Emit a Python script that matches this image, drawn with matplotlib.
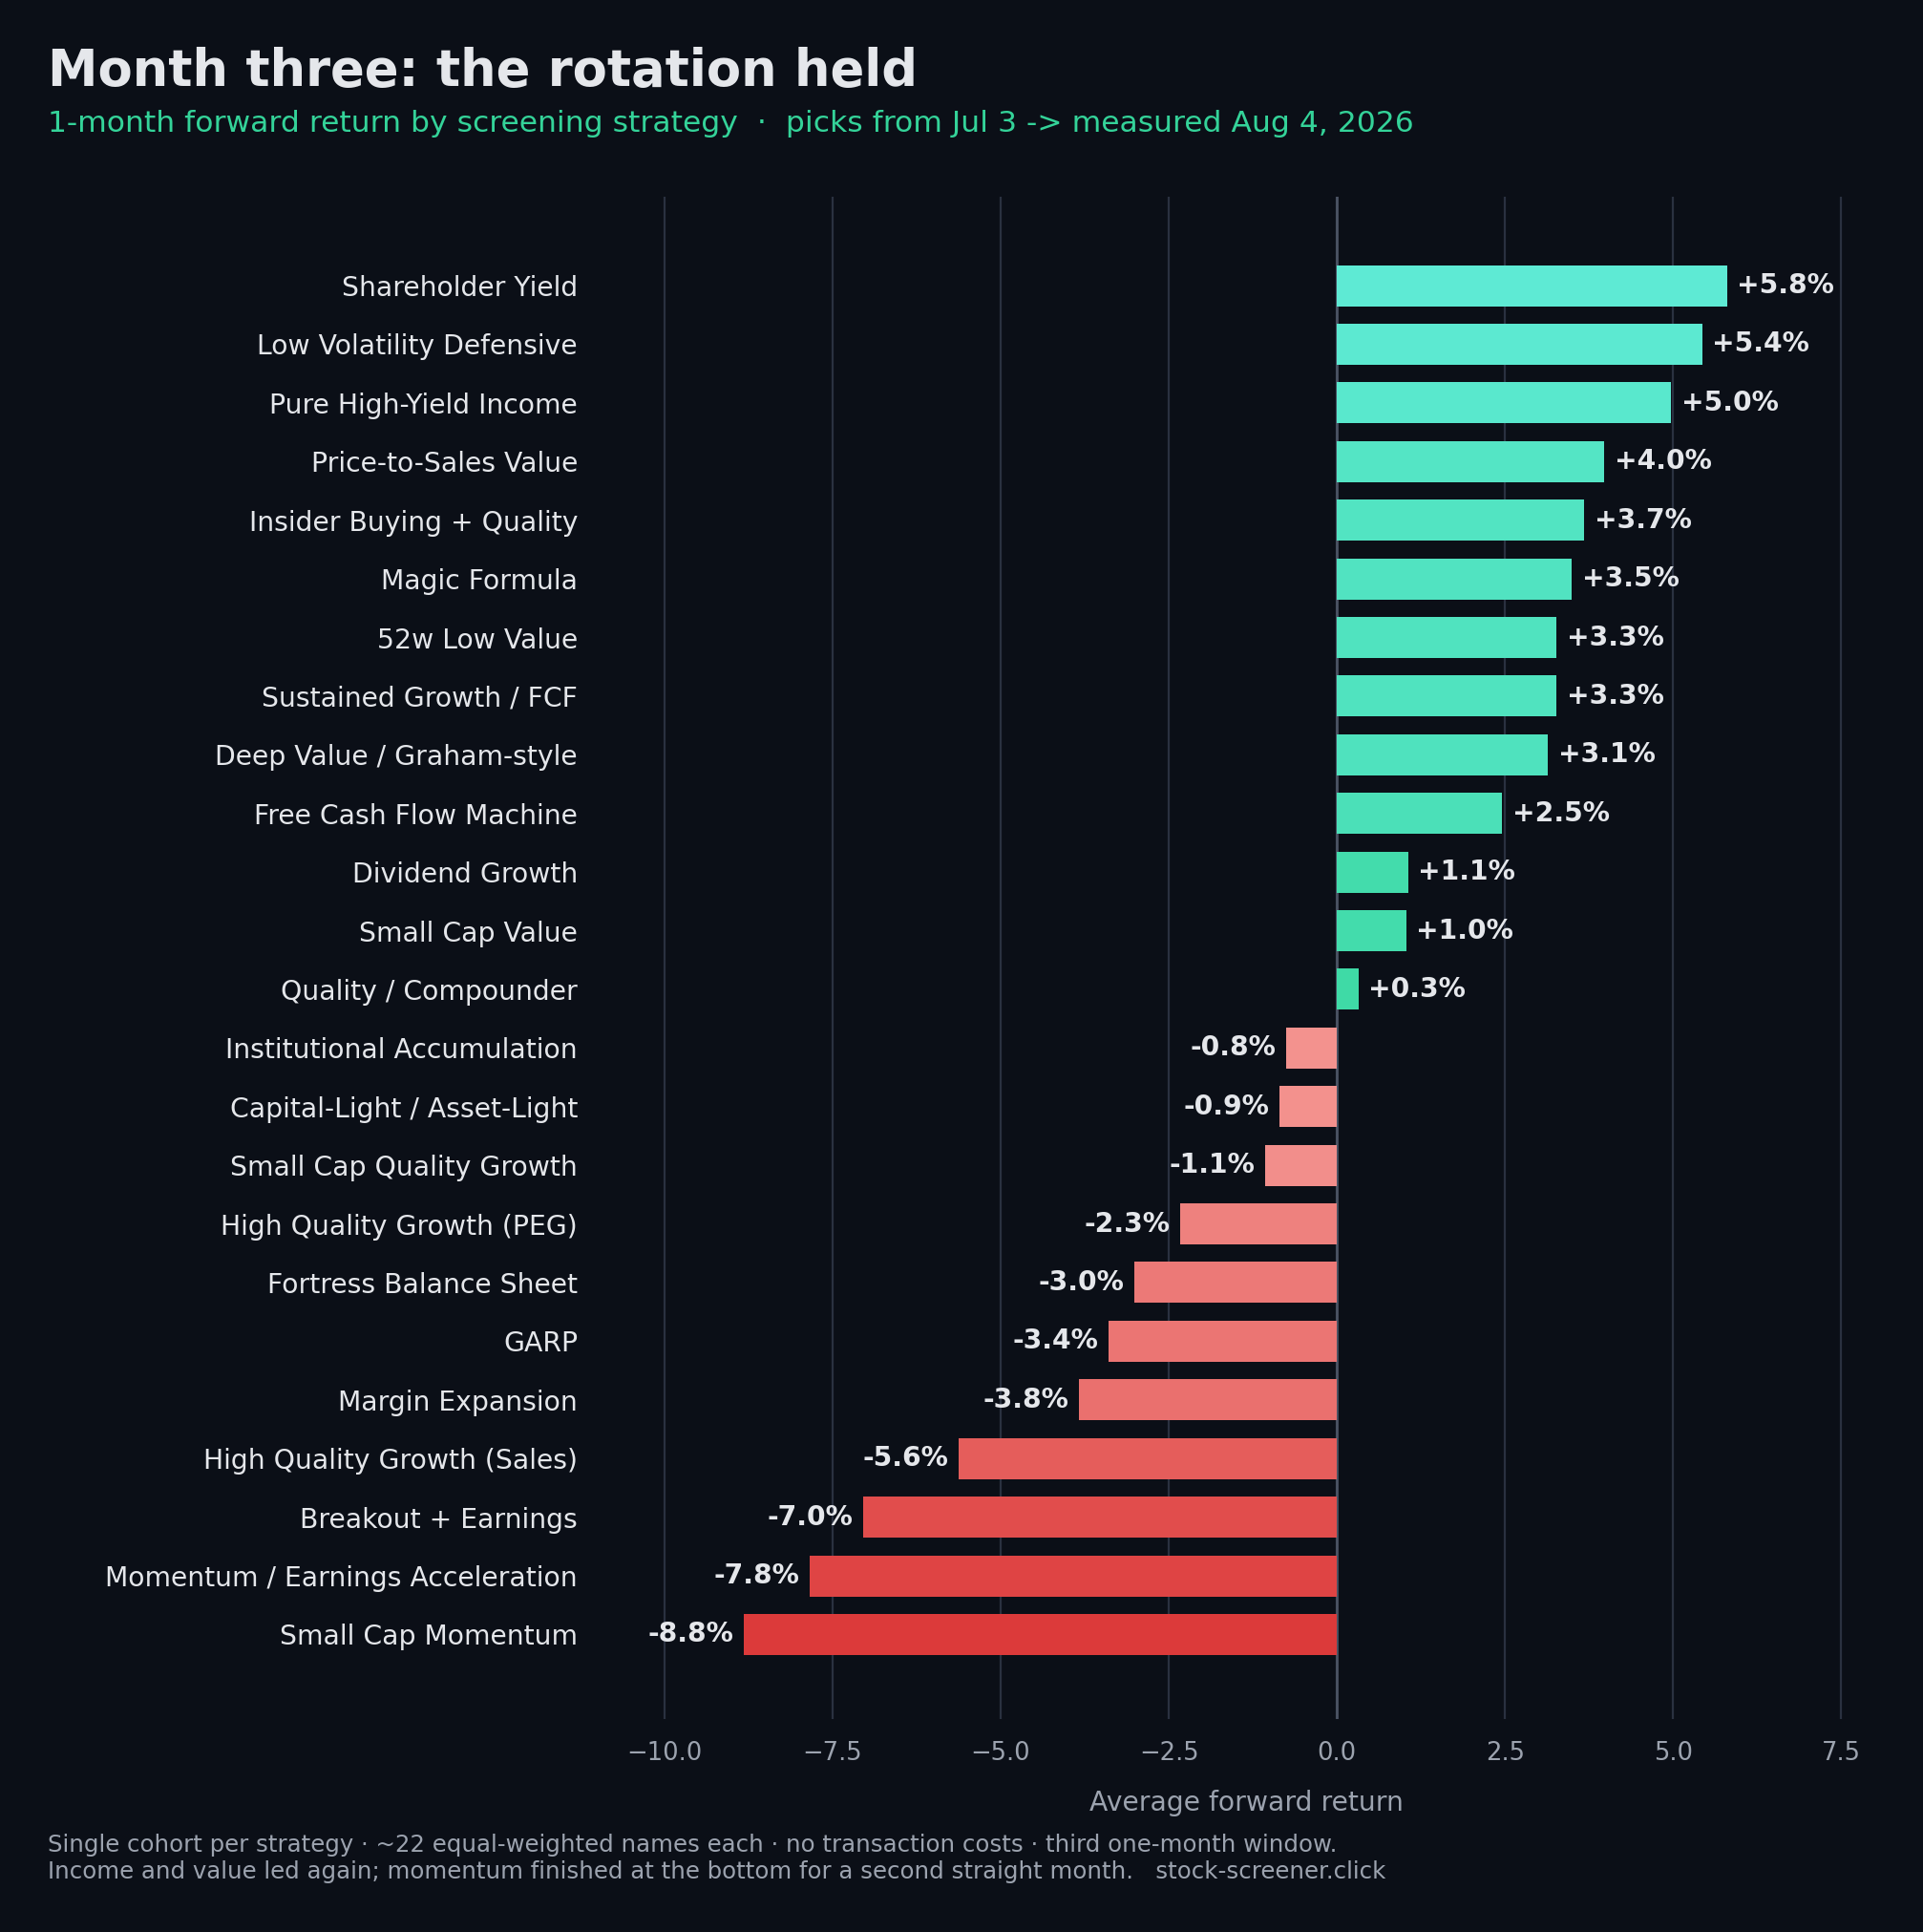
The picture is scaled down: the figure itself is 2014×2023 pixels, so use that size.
import matplotlib
matplotlib.use("Agg")
import matplotlib.pyplot as plt
import numpy as np
from matplotlib.colors import LinearSegmentedColormap

strategies = ["Shareholder Yield","Low Volatility Defensive","Pure High-Yield Income","Price-to-Sales Value",
 "Insider Buying + Quality","Magic Formula","52w Low Value","Sustained Growth / FCF","Deep Value / Graham-style",
 "Free Cash Flow Machine","Dividend Growth","Small Cap Value","Quality / Compounder","Institutional Accumulation",
 "Capital-Light / Asset-Light","Small Cap Quality Growth","High Quality Growth (PEG)","Fortress Balance Sheet",
 "GARP","Margin Expansion","High Quality Growth (Sales)","Breakout + Earnings","Momentum / Earnings Acceleration",
 "Small Cap Momentum"]
returns = [5.8,5.43,4.97,3.98,3.68,3.49,3.27,3.27,3.14,2.46,1.06,1.03,0.32,-0.75,-0.86,-1.07,-2.33,-3.01,-3.4,-3.84,-5.63,-7.04,-7.84,-8.82]

BG = "#0b0f17"
fig = plt.figure(figsize=(10.07, 10.115), dpi=200, facecolor=BG)
ax = fig.add_axes([0.328, 0.110, 0.640, 0.788], facecolor=BG)

pos_cmap = LinearSegmentedColormap.from_list("p", ["#3dd9a3", "#5eead4"])
neg_cmap = LinearSegmentedColormap.from_list("n", ["#f59a96", "#dc3a3a"])
colors = []
for v in returns:
    if v >= 0:
        colors.append(pos_cmap(float(min(v / 5.8, 1.0))))
    else:
        colors.append(neg_cmap(float(min(-v / 8.8, 1.0))))

y = np.arange(len(strategies))
ax.barh(y, returns, height=0.7, color=colors, zorder=3)
ax.set_ylim(len(strategies) - 1 + 1.45, -1.51)
ax.set_xlim(-10.5, 7.8)
ax.set_yticks(y)
ax.set_yticklabels(strategies, color="#e5e7eb", fontsize=10.2)
ax.set_xticks([-10, -7.5, -5, -2.5, 0, 2.5, 5, 7.5])
ax.set_xticklabels(["\u221210.0", "\u22127.5", "\u22125.0", "\u22122.5", "0.0", "2.5", "5.0", "7.5"])
ax.tick_params(axis="x", colors="#9ca3af", labelsize=9.3, length=0, pad=8)
ax.tick_params(axis="y", length=0, pad=20)
ax.grid(axis="x", color="#2a3140", linewidth=0.8, zorder=0)
ax.axvline(0, color="#4b5363", linewidth=1, zorder=2)
for s in ax.spines.values():
    s.set_visible(False)
ax.set_xlabel("Average forward return", color="#9ca3af", fontsize=10.2, labelpad=9)

for yi, v in zip(y, returns):
    lbl = f"{v:+.1f}%"
    if v >= 0:
        ax.text(v + 0.15, yi, lbl, va="center", ha="left", color="#e5e7eb", fontsize=10.2, fontweight="bold", zorder=4)
    else:
        ax.text(v - 0.15, yi, lbl, va="center", ha="right", color="#e5e7eb", fontsize=10.2, fontweight="bold", zorder=4)

fig.text(0.025, 0.963, "Month three: the rotation held", color="#e5e7eb", fontsize=19, fontweight="bold", va="center")
fig.text(0.025, 0.936, "1-month forward return by screening strategy  \u00b7  picks from Jul 3 -> measured Aug 4, 2026",
         color="#34d399", fontsize=11.3, va="center")
fig.text(0.025, 0.045, "Single cohort per strategy \u00b7 ~22 equal-weighted names each \u00b7 no transaction costs \u00b7 third one-month window.",
         color="#9ca3af", fontsize=8.8, va="center")
fig.text(0.025, 0.031, "Income and value led again; momentum finished at the bottom for a second straight month.   stock-screener.click",
         color="#9ca3af", fontsize=8.8, va="center")

fig.savefig("out.png", dpi=200, facecolor=BG)
